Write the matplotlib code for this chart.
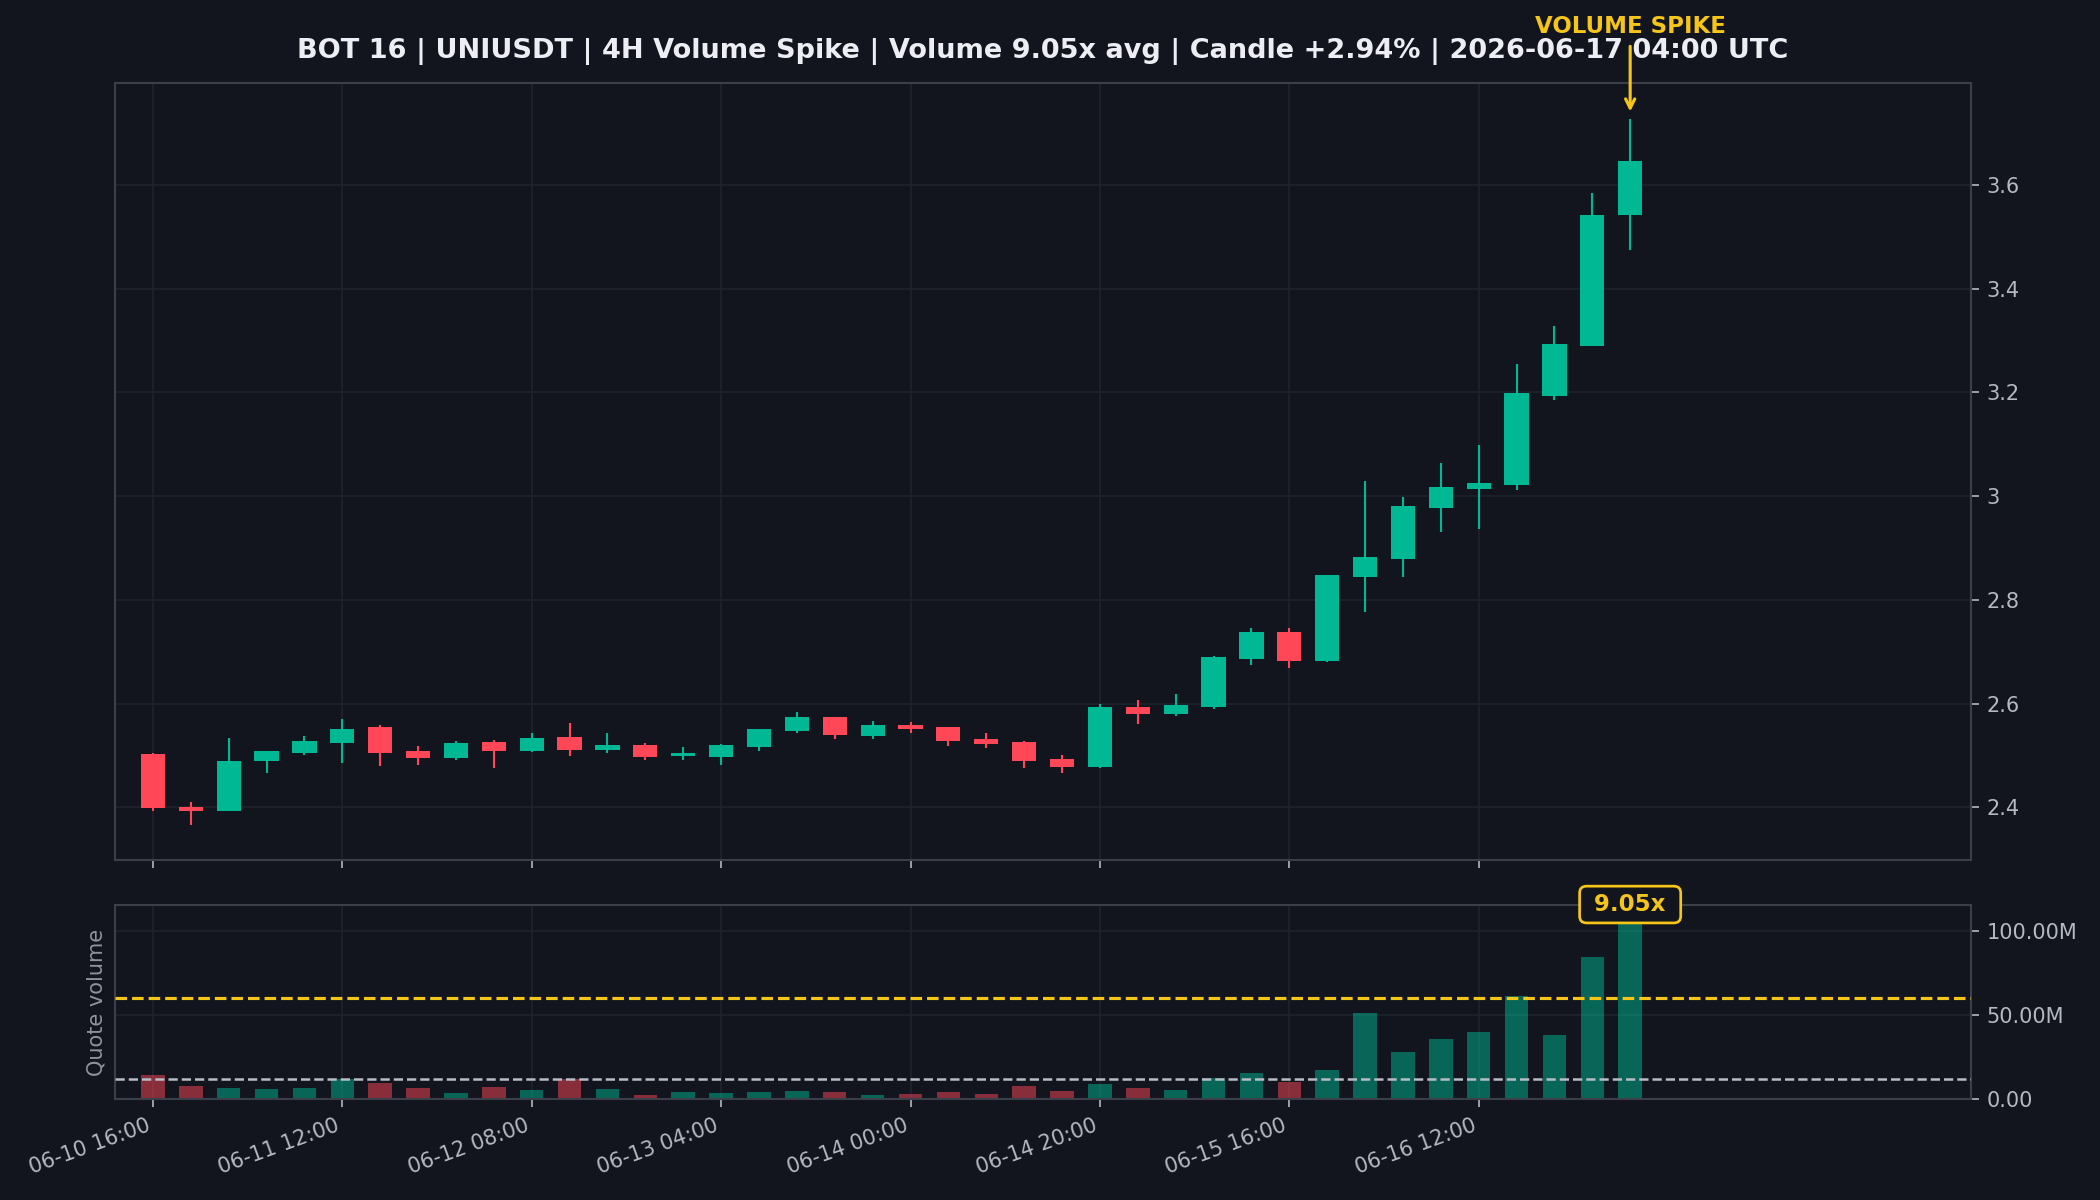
import pandas as pd
import matplotlib
matplotlib.use("Agg")
import matplotlib.pyplot as plt
import numpy as np
from matplotlib.ticker import FuncFormatter

#Candle data (4H candles, UNIUSDT)
start_time = "2026-06-10 16:00"
opens = [2.502, 2.400, 2.394, 2.4885, 2.505, 2.524, 2.554, 2.508, 2.4955, 2.526,
         2.509, 2.535, 2.5115, 2.521, 2.500, 2.4975, 2.517, 2.547, 2.575, 2.538,
         2.558, 2.5545, 2.531, 2.5255, 2.493, 2.478, 2.593, 2.580, 2.5935, 2.686,
         2.7385, 2.683, 2.844, 2.8795, 2.9775, 3.014, 3.022, 3.1935, 3.290, 3.541]
closes = [2.398, 2.394, 2.490, 2.508, 2.527, 2.552, 2.505, 2.4955, 2.525, 2.5095,
          2.5345, 2.511, 2.521, 2.4975, 2.504, 2.520, 2.552, 2.575, 2.540, 2.558,
          2.551, 2.528, 2.5225, 2.490, 2.478, 2.593, 2.580, 2.597, 2.689, 2.7385,
          2.683, 2.847, 2.883, 2.9815, 3.018, 3.0255, 3.1985, 3.293, 3.541, 3.645]
highs = [2.5045, 2.4095, 2.533, 2.508, 2.537, 2.571, 2.5595, 2.519, 2.527, 2.530,
         2.544, 2.562, 2.544, 2.525, 2.5155, 2.523, 2.552, 2.583, 2.575, 2.567,
         2.5645, 2.5545, 2.543, 2.528, 2.5005, 2.5985, 2.6065, 2.618, 2.691, 2.745,
         2.745, 2.8485, 3.029, 2.998, 3.064, 3.0975, 3.2545, 3.328, 3.5845, 3.727]
lows = [2.3935, 2.3665, 2.3935, 2.4665, 2.501, 2.486, 2.480, 2.482, 2.4915, 2.476,
        2.507, 2.4995, 2.505, 2.4915, 2.4915, 2.4815, 2.509, 2.5435, 2.5315, 2.5315,
        2.5435, 2.518, 2.514, 2.4755, 2.466, 2.4755, 2.560, 2.5755, 2.590, 2.6745,
        2.6685, 2.680, 2.776, 2.844, 2.931, 2.937, 3.011, 3.186, 3.290, 3.4735]
#Quote volume in millions
volumes = [14.4, 7.9, 6.5, 6.1, 6.7, 11.9, 9.7, 6.7, 3.8, 7.3,
           5.5, 11.9, 6.1, 2.6, 4.3, 3.8, 4.3, 4.9, 4.3, 2.6,
           3.2, 4.3, 3.2, 7.9, 4.9, 9.1, 6.7, 5.5, 12.5, 15.6,
           10.3, 17.4, 51.1, 28.1, 35.8, 40.0, 61.4, 38.2, 84.5, 108.6]
avg_volume = 12.0
spike_mult = 5
title = "BOT 16 | UNIUSDT | 4H Volume Spike | Volume 9.05x avg | Candle +2.94% | 2026-06-17 04:00 UTC"

#Colours
bg = "#12151d"
green = "#00b894"
red = "#ff4757"
yellow = "#f5c518"
grid_c = "#1f232c"
spine_c = "#3a3f4a"
text_c = "#b4b8c2"

times = pd.date_range(start_time, periods=len(opens), freq="4h")
x = np.arange(len(opens))
o = np.array(opens)
c = np.array(closes)
h = np.array(highs)
l = np.array(lows)
v = np.array(volumes) * 1e6
up = c >= o
cols = np.where(up, green, red)

fig = plt.figure(figsize=(14, 8), dpi=150, facecolor=bg)
ax = fig.add_axes([0.0548, 0.2835, 0.8838, 0.6473])
axv = fig.add_axes([0.0548, 0.0838, 0.8838, 0.1620], sharex=ax)

for a in (ax, axv):
    a.set_facecolor(bg)
    for s in a.spines.values():
        s.set_color(spine_c)
        s.set_linewidth(1)
    a.grid(True, color=grid_c, linewidth=0.8)
    a.set_axisbelow(True)
    a.yaxis.tick_right()
    a.tick_params(colors=text_c, labelsize=10, length=4)

#Candles
ax.vlines(x, l, h, color=cols, linewidth=1, zorder=2)
body_bottom = np.minimum(o, c)
body_height = np.maximum(np.abs(c - o), 0.002)
ax.bar(x, body_height, bottom=body_bottom, width=0.64, color=cols, linewidth=0, zorder=3)

ax.set_xlim(-1, 48)
ax.set_ylim(2.299, 3.796)
ax.yaxis.set_major_formatter(FuncFormatter(lambda val, p: f"{val:g}"))
ax.tick_params(axis="x", labelbottom=False)
ax.set_title(title, color="#eceef3", fontsize=13, fontweight="bold", pad=12)

#Spike marker
ax.annotate("VOLUME SPIKE", xy=(x[-1], h[-1] + 0.006), xytext=(x[-1], 3.905),
            color=yellow, fontsize=11, fontweight="bold", ha="center", va="center",
            annotation_clip=False,
            arrowprops=dict(arrowstyle="->", color=yellow, lw=1.5))

#Volume bars
axv.bar(x, v, width=0.62, color=cols, alpha=0.5, linewidth=0, zorder=2)
axv.axhline(avg_volume * 1e6, color="#b8bcc6", linestyle="--", linewidth=1.2, zorder=3)
axv.axhline(avg_volume * spike_mult * 1e6, color=yellow, linestyle="--", linewidth=1.5, zorder=3)
axv.set_ylim(0, v.max() * 1.06)
axv.set_yticks([0, 50e6, 100e6])
axv.yaxis.set_major_formatter(FuncFormatter(lambda val, p: f"{val/1e6:.2f}M" if val >= 1e6 else f"{val:.2f}"))
axv.set_ylabel("Quote volume", color="#8e939e", fontsize=10)
axv.text(x[-1], v[-1], f" {v[-1] / (avg_volume * 1e6):.2f}x ", ha="center", va="bottom",
         color=yellow, fontsize=11, fontweight="bold", clip_on=False, zorder=5,
         bbox=dict(boxstyle="round,pad=0.3", facecolor=bg, edgecolor=yellow, linewidth=1.3))

#Date ticks every 5 candles
tick_pos = x[::5]
axv.set_xticks(tick_pos)
axv.set_xticklabels([t.strftime("%m-%d %H:%M") for t in times[::5]], rotation=20, ha="right")

fig.savefig("out.png", dpi=150, facecolor=bg)
